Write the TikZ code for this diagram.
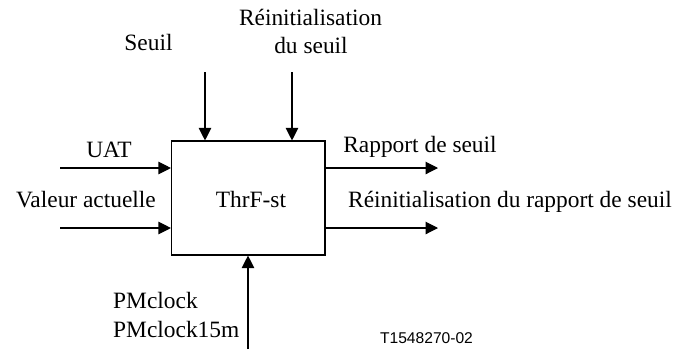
\documentclass[tikz,border=0pt]{standalone}
\usepackage{fontspec}
\setmainfont{Liberation Serif}
\newfontfamily\helv{Liberation Sans}
\usetikzlibrary{arrows.meta}
\begin{document}
\begin{tikzpicture}[x=1pt,y=-1pt,
  lbl/.style={font=\fontsize{23.4}{28}\selectfont, inner sep=0pt, anchor=base},
  conn/.style={line width=1.1pt, -{Triangle[length=12.5pt,width=12.5pt]}},
  blk/.style={draw, line width=1.1pt, minimum width=153.5pt, minimum height=114pt, inner sep=0pt}]
\useasboundingbox (0,0) rectangle (679,349);
\node[blk] (b) at (248.25,198) {};
\node[lbl] (t) at (251,207) {ThrF-st};
% inputs top
\coordinate (s0) at (205,72);
\coordinate (r0) at (292,72);
\draw[conn] (s0) -- (s0 |- b.north);
\draw[conn] (r0) -- (r0 |- b.north);
\node[lbl] (ls) at (148.5,50) {Seuil};
\node[lbl] (lr1) at (310.5,25) {Réinitialisation};
\node[lbl] (lr2) at (311,53) {du seuil};
% left inputs
\coordinate (u0) at (60,168);
\coordinate (v0) at (60,228);
\draw[conn] (u0) -- (u0 -| b.west);
\draw[conn] (v0) -- (v0 -| b.west);
\node[lbl] (lu) at (109,157) {UAT};
\node[lbl] (lv) at (86,207) {Valeur actuelle};
% right outputs
\coordinate (o1) at (438,168);
\coordinate (o2) at (438,228);
\draw[conn] (o1 -| b.east) -- (o1);
\draw[conn] (o2 -| b.east) -- (o2);
\node[lbl] (lo1) at (420,152) {Rapport de seuil};
\node[lbl] (lo2) at (510,207) {Réinitialisation du rapport de seuil};
% bottom input
\coordinate (p0) at (248,349);
\draw[conn] (p0) -- (p0 |- b.south);
\node[lbl, anchor=base west] (lp1) at (113,308) {PMclock};
\node[lbl, anchor=base west] (lp2) at (113,337) {PMclock15m};
% figure id
\node[font=\helv\fontsize{15.6}{18}\selectfont, inner sep=0pt, anchor=base] (id) at (426.5,343) {T1548270-02};
\end{tikzpicture}
\end{document}
